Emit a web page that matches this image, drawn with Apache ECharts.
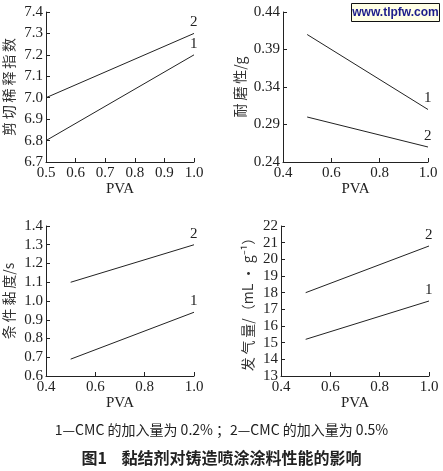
<!DOCTYPE html>
<html>
<head>
<meta charset="utf-8">
<script src="https://cdn.jsdelivr.net/npm/echarts@6/dist/echarts.min.js"></script>
<style>
  html, body { margin: 0; padding: 0; background: #fff; }
  #chart { width: 443px; height: 471px; }
</style>
</head>
<body>
<div id="chart"></div>
<script>
// PVA content on the x axis, two CMC levels per panel
const pva = [0.5, 1.0];

// panel a: shear thinning index
const shear1 = [6.80, 7.20];
const shear2 = [7.00, 7.30];
// panel b: wear resistance (g)
const wear1 = [0.41, 0.31];
const wear2 = [0.30, 0.26];
// panel c: viscosity (s)
const visc1 = [0.69, 0.94];
const visc2 = [1.10, 1.30];
// panel d: gas evolution (mL/g)
const gas1 = [15.2, 17.5];
const gas2 = [18.0, 20.8];

const yNames = ["剪\u2009切\u2009稀\u2009释\u2009指\u2009数", "耐\u2009磨\u2009性/g", "条\u2009件\u2009黏\u2009度/s", "发\u2009气\u2009量/（mL · g⁻¹）"];
const captionLegend = "1—CMC 的加入量为 0.2% ；2—CMC 的加入量为 0.5%";
const captionTitle = "图1    黏结剂对铸造喷涂涂料性能的影响";

const chart = echarts.init(document.getElementById("chart"));

const numFont = { fontFamily: "Liberation Serif", fontSize: 15, color: "#222" };

// grid boxes in px
const grids = [
  { left: 46, top: 12, width: 148, height: 150 },
  { left: 283, top: 12, width: 145, height: 150 },
  { left: 46, top: 226, width: 148, height: 150 },
  { left: 281, top: 226, width: 148, height: 150 }
];

const xCfg = [
  { min: 0.5, max: 1.0, interval: 0.1 },
  { min: 0.4, max: 1.0, interval: 0.2 },
  { min: 0.4, max: 1.0, interval: 0.2 },
  { min: 0.4, max: 1.0, interval: 0.2 }
];
const yCfg = [
  { min: 6.7, max: 7.4, interval: 0.1, dec: 1, gap: 30 },
  { min: 0.24, max: 0.44, interval: 0.05, dec: 2, gap: 36 },
  { min: 0.6, max: 1.4, interval: 0.1, dec: 1, gap: 30 },
  { min: 13, max: 22, interval: 1, dec: 0, gap: 26 }
];

const axisCommon = {
  axisLine: { show: true, lineStyle: { color: "#222", width: 1 } },
  axisTick: { show: true, inside: true, length: 4, lineStyle: { color: "#222" } },
  splitLine: { show: false }
};

const xAxis = xCfg.map((c, i) => ({
  type: "value",
  gridIndex: i,
  min: c.min, max: c.max, interval: c.interval,
  name: "PVA",
  nameLocation: "middle",
  nameGap: 20,
  nameTextStyle: { fontFamily: "Liberation Serif", fontSize: 15, color: "#222", verticalAlign: "top" },
  axisLabel: { ...numFont, margin: 4, formatter: v => v.toFixed(1) },
  ...axisCommon
}));

const yAxis = yCfg.map((c, i) => ({
  type: "value",
  gridIndex: i,
  min: c.min, max: c.max, interval: c.interval,
  name: yNames[i],
  nameLocation: "middle",
  nameGap: c.gap,
  nameRotate: 90,
  nameTextStyle: { fontFamily: "Noto Sans CJK SC", fontSize: 14, color: "#333" },
  axisLabel: { ...numFont, margin: 3, formatter: v => v.toFixed(c.dec) },
  ...axisCommon
}));

function mkSeries(vals, idx, tag) {
  return {
    type: "line",
    xAxisIndex: idx,
    yAxisIndex: idx,
    symbol: "none",
    silent: true,
    lineStyle: { color: "#222", width: 1 },
    endLabel: { show: true, formatter: tag, offset: [-12, -11], ...numFont },
    data: pva.map((x, k) => [x, vals[k]])
  };
}

const series = [
  mkSeries(shear1, 0, "1"), mkSeries(shear2, 0, "2"),
  mkSeries(wear1, 1, "1"), mkSeries(wear2, 1, "2"),
  mkSeries(visc1, 2, "1"), mkSeries(visc2, 2, "2"),
  mkSeries(gas1, 3, "1"), mkSeries(gas2, 3, "2")
];

chart.setOption({
  animation: false,
  backgroundColor: "#fff",
  grid: grids,
  xAxis: xAxis,
  yAxis: yAxis,
  series: series,
  graphic: [
    {
      type: "group", left: 351, top: 3,
      children: [
        { type: "rect", shape: { x: 0, y: 0, width: 88, height: 18 },
          style: { fill: "#ffffe6", stroke: "#111", lineWidth: 1 } },
        { type: "text", x: 44, y: 9,
          style: { text: "www.tlpfw.com", fill: "#1c1c8a", font: "bold 12px 'Liberation Sans'", align: "center", verticalAlign: "middle" } }
      ]
    },
    { type: "text", left: "center", top: 423,
      style: { text: captionLegend, fill: "#222", font: "14px 'Noto Sans CJK SC'" } },
    { type: "text", left: "center", top: 450,
      style: { text: captionTitle, fill: "#222", font: "bold 16px 'Noto Sans CJK SC'" } }
  ]
});
</script>
</body>
</html>
